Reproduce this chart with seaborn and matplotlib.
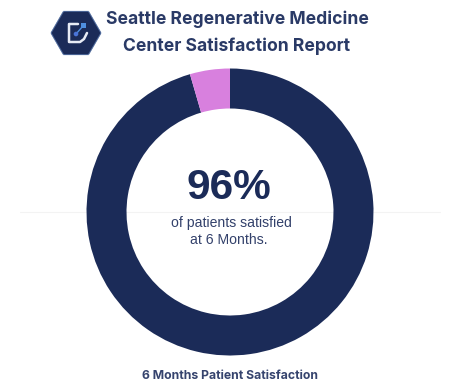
import math
import matplotlib
matplotlib.use("Agg")
import matplotlib.pyplot as plt
from matplotlib.patches import RegularPolygon, Circle, Rectangle
import seaborn as sns

sns.set_theme(style="white")

labels = ["Satisfied", "Not satisfied"]
values = [95.5, 4.5]
colors = ["#1b2b58", "#d880de"]
title_lines = ["Seattle Regenerative Medicine", "Center Satisfaction Report"]
center_big = "96%"
center_small = ["of patients satisfied", "at 6 Months."]
caption = "6 Months Patient Satisfaction"

W, H = 475, 390
fig = plt.figure(figsize=(W / 100, H / 100), dpi=100, facecolor="white")

bg = fig.add_axes([0, 0, 1, 1])
bg.set_xlim(0, W); bg.set_ylim(H, 0); bg.axis("off")
bg.plot([20, 440], [212, 212], color="#f3f3f3", lw=0.8, zorder=0)

# Donut
cx, cy, R = 230, 212, 143.5
ax = fig.add_axes([(cx - R) / W, 1 - (cy + R) / H, 2 * R / W, 2 * R / H])
ax.set_facecolor("none")
ax.pie(values, labels=None, colors=colors, startangle=90, counterclock=False, radius=1,
       wedgeprops=dict(width=40 / 143.5, linewidth=0))
ax.set_xlim(-1, 1); ax.set_ylim(-1, 1); ax.axis("off")

bg.text(237, 19, title_lines[0], ha="center", va="center", fontsize=12.6,
        fontweight="bold", family="Inter", color="#2a3a66")
bg.text(237, 46, title_lines[1], ha="center", va="center", fontsize=12.6,
        fontweight="bold", family="Inter", color="#2a3a66")
bg.text(229, 188, center_big, ha="center", va="center", fontsize=30.5,
        fontweight="bold", family="Liberation Sans", color="#1b2b58")
bg.text(231.5, 223, center_small[0], ha="center", va="center", fontsize=10.1,
        family="Liberation Sans", color="#33416b")
bg.text(229, 240, center_small[1], ha="center", va="center", fontsize=10.1,
        family="Liberation Sans", color="#33416b")
bg.text(230, 376, caption, ha="center", va="center", fontsize=8.8,
        fontweight="bold", family="Inter", color="#36446e")

# Logo
bg.add_patch(RegularPolygon((76, 33), 6, radius=23, orientation=math.pi / 6,
                            facecolor="#1b2b58", edgecolor="#1b2b58", lw=3,
                            joinstyle="round", zorder=2))
bg.add_patch(RegularPolygon((76, 33), 6, radius=25, orientation=math.pi / 6,
                            facecolor="none", edgecolor="#6d8fc4", lw=0.8, alpha=0.6,
                            joinstyle="round", zorder=2))
bg.plot([78, 69, 69, 80, 84, 87], [24, 24, 42, 42, 39, 33], color="#e8ecf5", lw=1.8, zorder=3,
        solid_joinstyle="round")
bg.plot([76, 83], [34, 26], color="#4f8fe0", lw=1.0, zorder=3)
bg.add_patch(Rectangle((81, 23), 5, 5, facecolor="#4f8fe0", lw=0, zorder=4))
bg.add_patch(Circle((76, 34), 2.3, facecolor="#4a74d8", lw=0, zorder=4))

fig.savefig("out.png", dpi=100, facecolor="white")
